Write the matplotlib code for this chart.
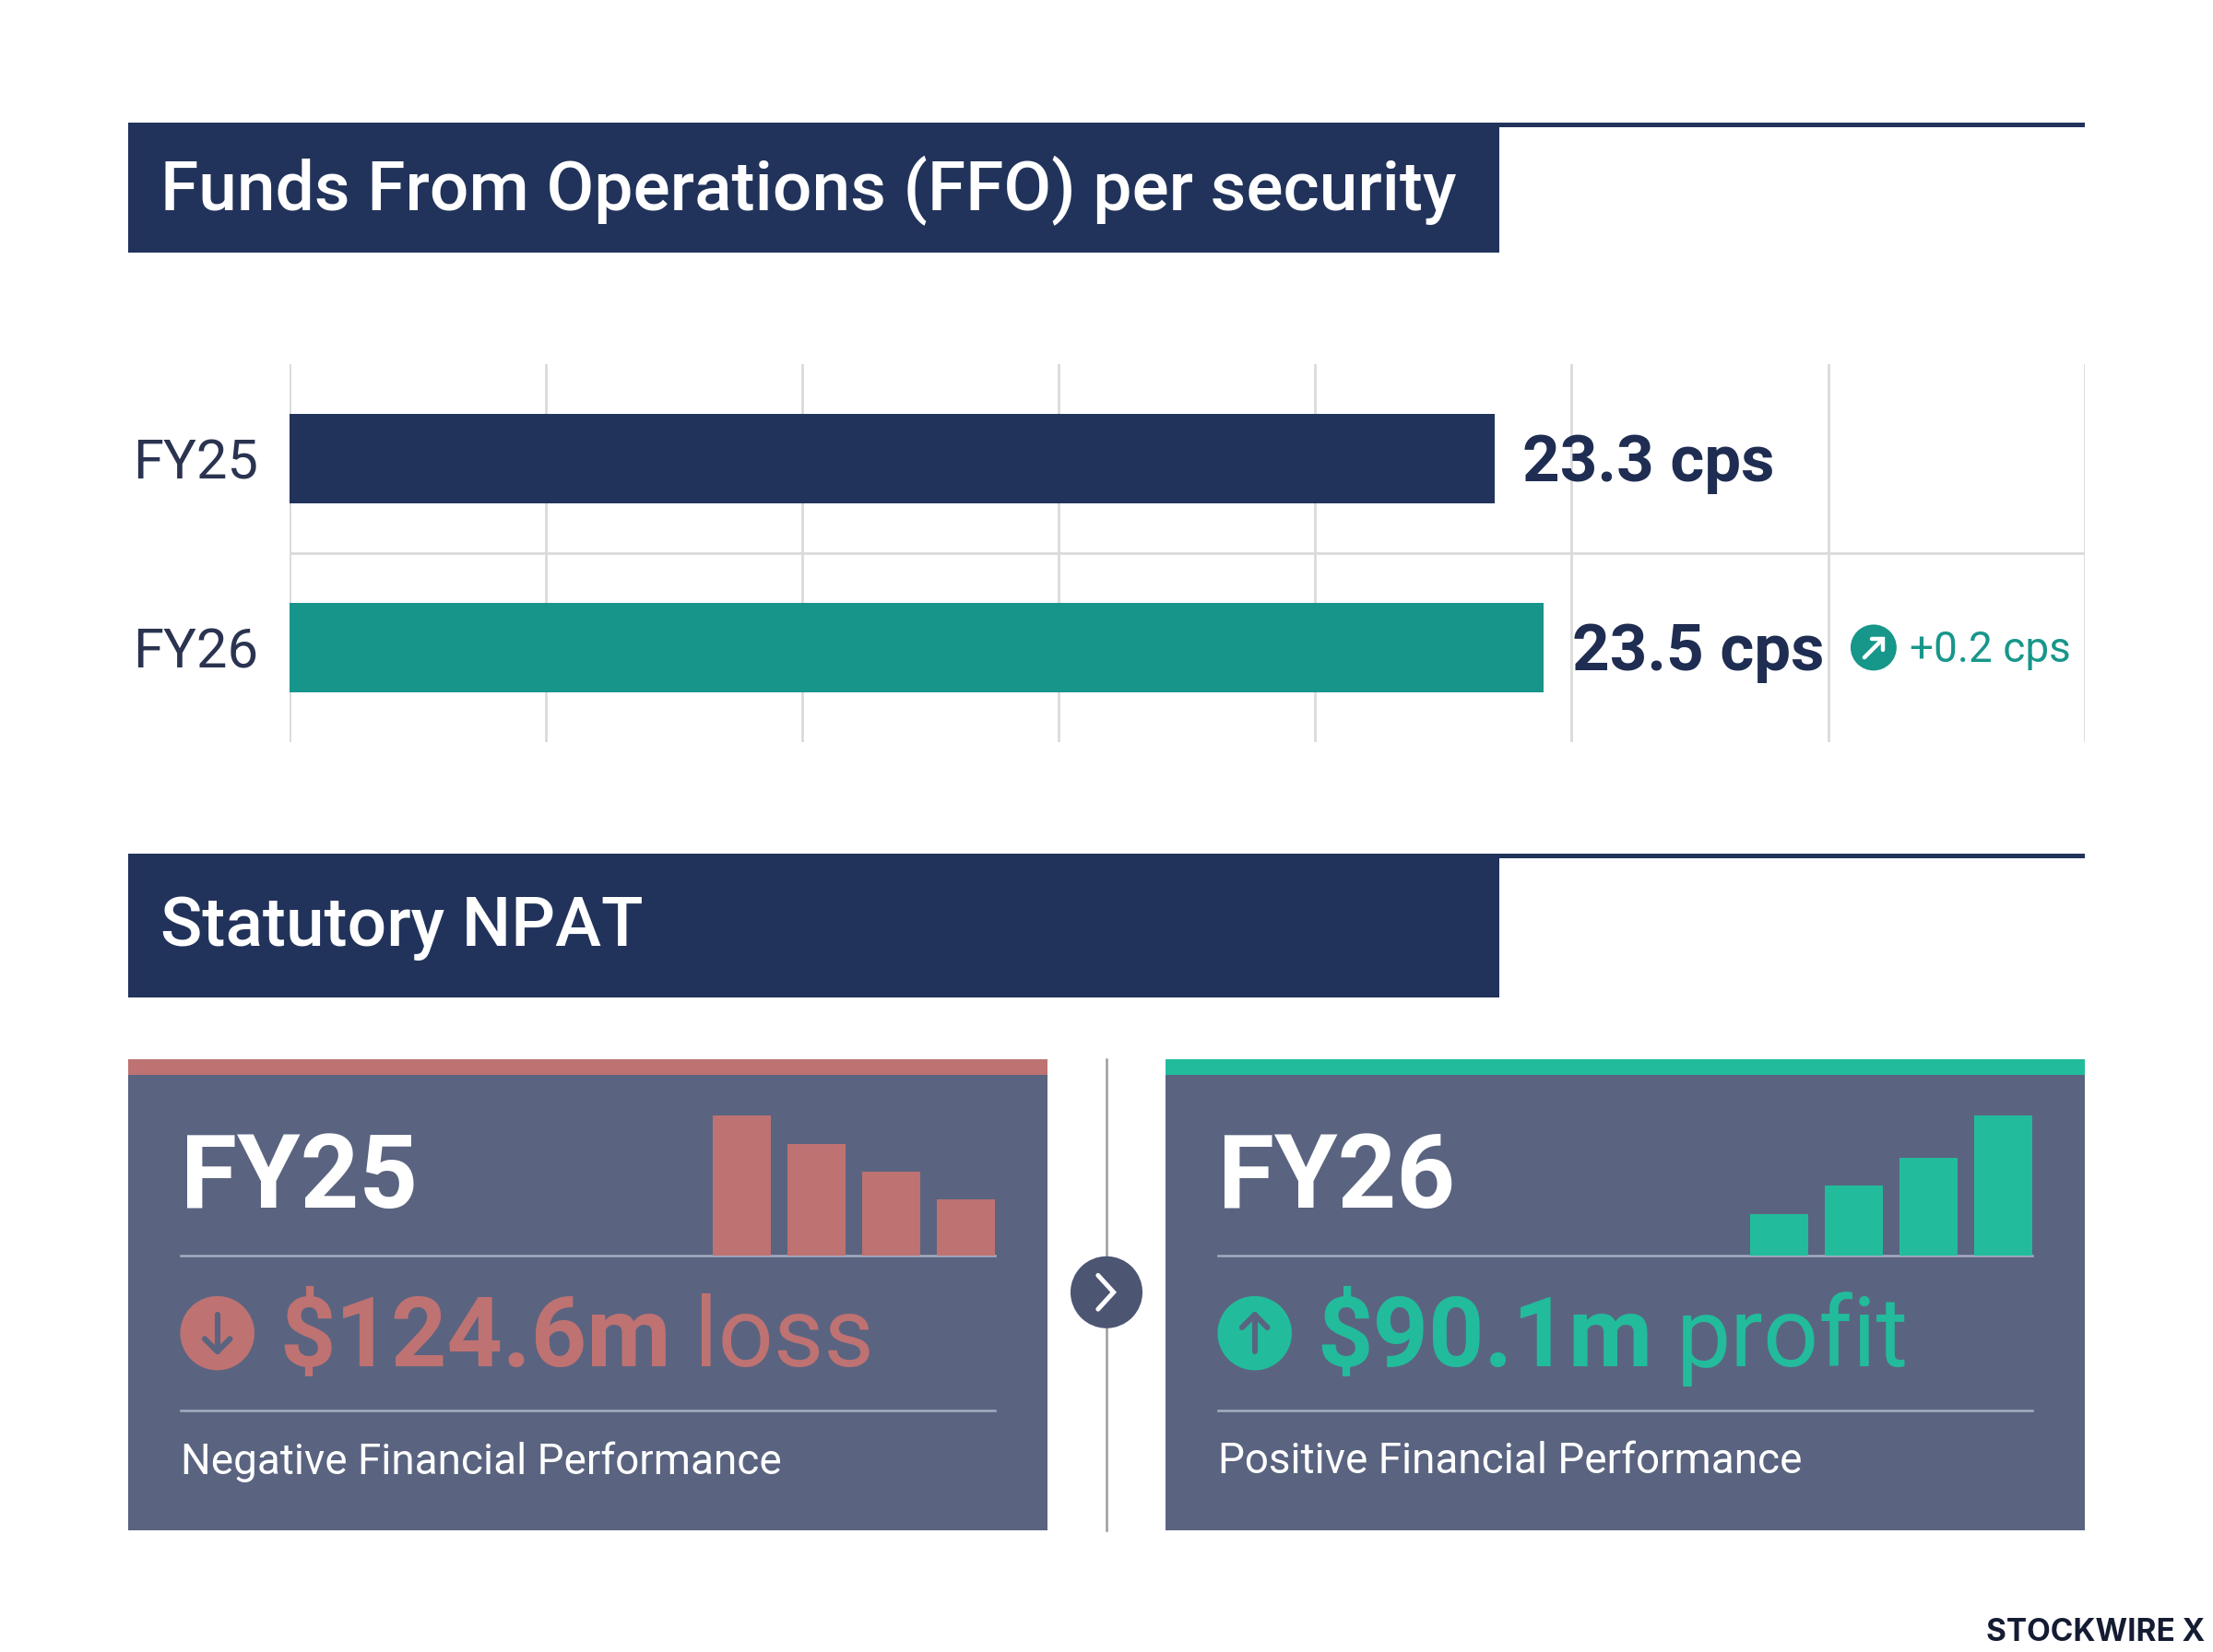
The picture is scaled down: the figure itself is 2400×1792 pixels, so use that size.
import numpy as np
import matplotlib
matplotlib.use("Agg")
from matplotlib import pyplot as plt
from matplotlib.patches import Rectangle, Circle

plt.rcParams["font.family"] = ["Roboto", "DejaVu Sans"]

# data
ffo_years = ["FY25", "FY26"]
ffo_values = [23.3, 23.5]
ffo_labels = ["23.3 cps", "23.5 cps"]
ffo_change = "+0.2 cps"
npat_years = ["FY25", "FY26"]
npat_amounts = ["$124.6m", "$90.1m"]
npat_words = ["loss", "profit"]
npat_notes = ["Negative Financial Performance", "Positive Financial Performance"]
trend_fy25 = [1.0, 0.8, 0.6, 0.4]
trend_fy26 = [0.3, 0.5, 0.7, 1.0]

navy = "#22335b"
teal_bar = "#17958a"
red = "#bf7272"
green = "#22bc9c"
card = "#5a6480"
sep = "#a6adc2"

# reference layout grid (displayed px)
W, H = 1568, 1171

fig = plt.figure(figsize=(12, 8.96), dpi=200)
fig.patch.set_facecolor("white")

bg = fig.add_axes([0, 0, 1, 1], zorder=0)
bg.set_xlim(0, W)
bg.set_ylim(H, 0)
bg.axis("off")


def fax(x0, y0, x1, y1, z=1):
    return fig.add_axes([x0 / W, 1 - y1 / H, (x1 - x0) / W, (y1 - y0) / H], zorder=z)


# section banners
for top, bot, title in [(87, 179, "Funds From Operations (FFO) per security"),
                        (605, 707, "Statutory NPAT")]:
    bg.add_patch(Rectangle((91, top), 971, bot - top, color=navy, lw=0))
    bg.add_patch(Rectangle((91, top), 1386, 3.5, color=navy, lw=0))
    bg.text(114, (top + bot) / 2 + 2, title, color="white", fontsize=27,
            ha="left", va="center", fontweight="medium")

# FFO bar chart
ax = fax(205, 258, 1477, 526, z=1)
ax.patch.set_alpha(0)
xmin, xmax = 18.4, 25.7
ax.set_xlim(xmin, xmax)
ax.set_ylim(1.5, -0.5)
ax.set_xticks(np.linspace(xmin, xmax, 8))
ax.grid(axis="x", color="#dadada", lw=1.0)
ax.axhline(0.5, color="#dadada", lw=1.0)
ax.set_axisbelow(True)
ax.barh(range(len(ffo_values)), ffo_values, height=0.47,
        color=[navy, teal_bar], left=0)
for s in ax.spines.values():
    s.set_visible(False)
ax.tick_params(axis="both", length=0)
ax.set_xticklabels([])
ax.set_yticks(range(len(ffo_years)))
ax.set_yticklabels(ffo_years, fontsize=21.5, color="#2a3350")
ax.tick_params(axis="y", pad=12)
for i, v in enumerate(ffo_values):
    ax.annotate(ffo_labels[i], xy=(v, i), xytext=(11, -2), textcoords="offset points",
                ha="left", va="center", fontsize=25.5, fontweight="bold", color="#1f2d52")

# change badge
bg.add_patch(Circle((1327.5, 459), 16.3, color="#17968a", lw=0, zorder=3))
bg.plot([1321, 1334], [466, 453], color="white", lw=1.6, solid_capstyle="round", zorder=4)
bg.plot([1326, 1334, 1334], [453, 453, 461], color="white", lw=1.6,
        solid_capstyle="round", solid_joinstyle="miter", zorder=4)
bg.text(1353, 461, ffo_change, color="#17968a", fontsize=16.5, ha="left", va="center")

# NPAT cards
cards = [(91, 742, red, trend_fy25), (826, 1477, green, trend_fy26)]
for k, (x0, x1, accent, trend) in enumerate(cards):
    bg.add_patch(Rectangle((x0, 751), x1 - x0, 334, color=card, lw=0))
    bg.add_patch(Rectangle((x0, 751), x1 - x0, 11, color=accent, lw=0))
    lx = x0 + 37
    rx = x1 - 37
    bg.text(lx, 836, npat_years[k], color="white", fontsize=40, fontweight="bold",
            ha="left", va="center")
    bg.plot([lx, rx], [890, 890], color=sep, lw=0.9)
    bg.plot([lx, rx], [1000, 1000], color=sep, lw=0.9)
    # trend icon
    tax = fax(rx - 200, 791, rx, 890, z=2)
    tax.bar(range(len(trend)), trend, width=41 / 53, color=accent)
    tax.set_xlim(-0.387, len(trend) - 1 + 0.387)
    tax.set_ylim(0, 1)
    tax.axis("off")
    # arrow icon
    cx, cy = lx + 26, 945
    bg.add_patch(Circle((cx, cy), 26.3, color=accent, lw=0, zorder=3))
    d = 1 if k == 0 else -1
    bg.plot([cx, cx], [cy - 13 * d, cy + 13 * d], color=card, lw=2.2,
            solid_capstyle="round", zorder=4)
    bg.plot([cx - 9, cx, cx + 9], [cy + 4 * d, cy + 13 * d, cy + 4 * d], color=card,
            lw=2.2, solid_capstyle="round", zorder=4)
    t1 = bg.text(lx + 70, 950, npat_amounts[k], color=accent, fontsize=38,
                 fontweight="bold", ha="left", va="center")
    bg.annotate(npat_words[k], xy=(1, 0), xycoords=t1, xytext=(9, 0),
                textcoords="offset points", color=accent, fontsize=38,
                ha="left", va="bottom")
    bg.text(lx, 1036, npat_notes[k], color="white", fontsize=16.5,
            ha="left", va="center")

# divider + chevron
bg.plot([784, 784], [751, 1085], color="#9c9c9c", lw=0.9, zorder=1)
bg.add_patch(Circle((784, 916), 25.5, color="#4c5673", lw=0, zorder=3))
bg.plot([778, 789, 778], [904, 916, 928], color="white", lw=1.8,
        solid_capstyle="round", solid_joinstyle="miter", zorder=4)

# watermark
bg.text(1562, 1157, "STOCKWIRE X", color="#141c33", fontsize=12, fontweight="bold",
        ha="right", va="center", family=["Inter", "DejaVu Sans"])

plt.savefig("out.png", dpi=200, facecolor="white")
